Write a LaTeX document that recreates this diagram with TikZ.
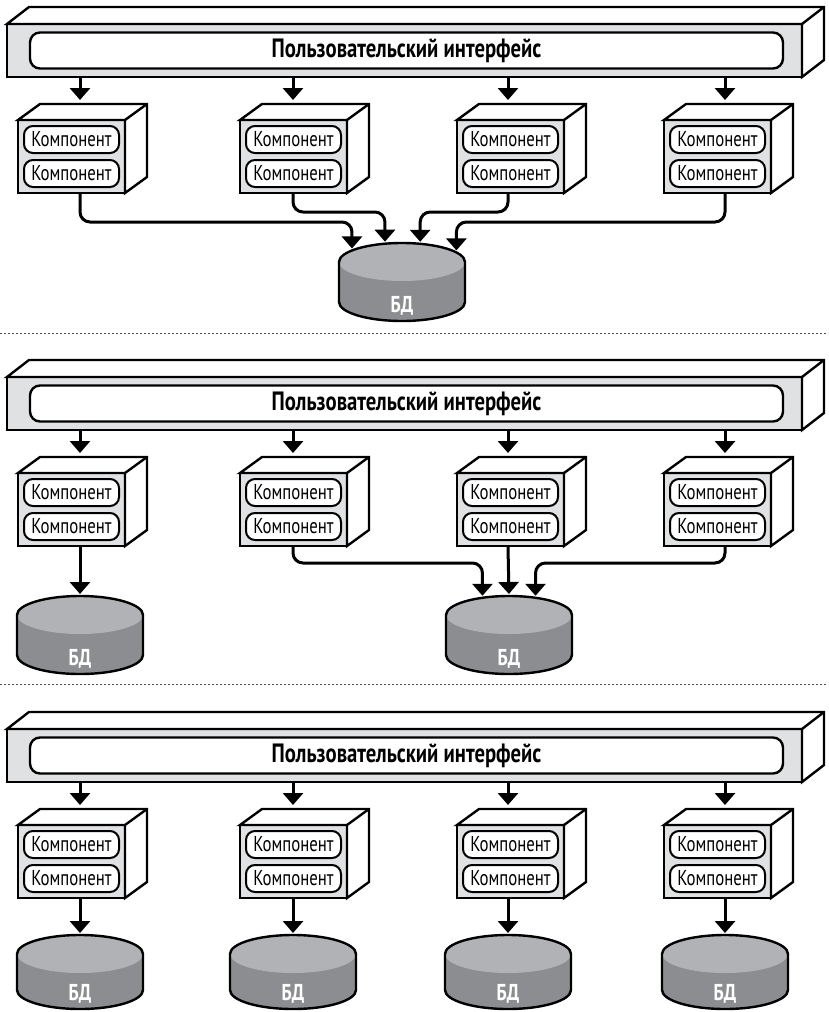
\documentclass[tikz,border=0pt]{standalone}
\usepackage{fontspec}
\setmainfont[FakeStretch=0.78]{PT Sans}
\usetikzlibrary{arrows.meta, positioning, shapes.geometric}

\definecolor{panelgray}{RGB}{224,225,226}
\definecolor{dbtop}{RGB}{176,178,181}
\definecolor{dbside}{RGB}{139,141,144}

\tikzset{
  outline/.style={line width=2.4pt},
  frontface/.style={draw, outline, fill=panelgray, inner sep=0pt, outer sep=0pt},
  sideface/.style={draw, outline, fill=white},
  uilabel/.style={draw, line width=2.4pt, fill=white, rounded corners=10pt,
    minimum width=753pt, minimum height=36pt, inner sep=0pt,
    font=\bfseries\fontsize{26.5}{30}\selectfont},
  complabel/.style={draw, line width=2pt, fill=white, rounded corners=9pt,
    minimum width=95pt, minimum height=27pt, inner sep=0pt,
    font=\fontsize{21.5}{24}\selectfont},
  dbcap/.style={ellipse, fill=dbtop, minimum width=126pt,
    minimum height=38pt, inner sep=0pt, outer sep=0pt},
  dblabel/.style={text=white, font=\bfseries\fontsize{23}{26}\selectfont},
  flow/.style={line width=3pt, rounded corners=10pt, shorten >=2pt,
    -{Triangle[width=20pt, length=12pt]}},
  separator/.style={line width=1pt, black!70, dash pattern=on 2pt off 2pt}
}

% interface bar: name, y offset of the panel
\newcommand{\uibar}[2]{%
  \node[frontface, minimum width=795pt, minimum height=53pt, anchor=north west]
    (#1) at (7,#2+24) {};
  \filldraw[sideface] (#1.north west) -- ++(22,-17) -- ++(795,0) -- ++(0,53)
    -- (#1.south east) -- (#1.north east) -- cycle;
  \draw[outline] (#1.north east) -- ++(22,-17);
  \node[uilabel] (#1t) at ([xshift=2pt]#1.center) {Пользовательский интерфейс};
}

% component box: name, left x, top y of the front face
\newcommand{\compbox}[3]{%
  \node[frontface, minimum width=107pt, minimum height=73pt, anchor=north west]
    (#1) at (#2,#3) {};
  \filldraw[sideface] (#1.north west) -- ++(22,-16) -- ++(107,0) -- ++(0,73)
    -- (#1.south east) -- (#1.north east) -- cycle;
  \draw[outline] (#1.north east) -- ++(22,-16);
  \node[complabel] (#1a) at ([yshift=17pt]#1.center) {Компонент};
  \node[complabel] (#1b) at ([yshift=-17pt]#1.center) {Компонент};
}

% database: name, centre x, centre y of the cap, side height
\newcommand{\dbdisk}[4]{%
  \fill[dbside] (#2-63,#3) -- (#2-63,#3+#4)
    arc[start angle=180, end angle=360, x radius=63pt, y radius=19pt]
    -- (#2+63,#3) -- cycle;
  \node[dbcap] (#1) at (#2,#3) {};
  \draw[outline] (#2-63,#3+#4) -- (#2-63,#3)
    arc[start angle=180, end angle=0, x radius=63pt, y radius=19pt]
    -- (#2+63,#3+#4)
    arc[start angle=0, end angle=-180, x radius=63pt, y radius=19pt];
  \node[dblabel] (#1l) at (#2,#3+#4+4) {БД};
}

\begin{document}
\begin{tikzpicture}[x=1pt, y=-1pt]
\useasboundingbox (0,0) rectangle (828,1012);

% three panels: bar, four boxes, arrows down
\foreach \p/\oy in {1/0, 2/353, 3/705} {
  \uibar{ui\p}{\oy}
  \foreach \bx/\ax [count=\i] in {18/80, 240/293, 457/508, 664/725} {
    \compbox{b\p\i}{\bx}{\oy+120}
    \coordinate (t\p\i) at (\ax,\oy+102);
    \coordinate (s\p\i) at (\ax,\oy+194);
    \draw[flow] (ui\p.south -| t\p\i) -- (t\p\i);
  }
}

% panel 1: one shared database
\dbdisk{db1}{402}{262}{40}
\draw[flow] (s11) -- ++(0,28) -| (db1.167);
\draw[flow] (s12) -- ++(0,18) -| (db1.133);
\draw[flow] (s13) -- ++(0,18) -| (db1.45);
\draw[flow] (s14) -- ++(0,28) -| (db1.10);

% panel 2: one own, one shared
\dbdisk{db2a}{80}{615}{40}
\dbdisk{db2b}{509}{615}{40}
\draw[flow] (s21) -- (db2a.north);
\draw[flow] (s22) -- ++(0,16) -| (db2b.147);
\draw[flow] (s23) -- (db2b.north);
\draw[flow] (s24) -- ++(0,16) -| (db2b.33);

% panel 3: a database per box
\foreach \ax [count=\i] in {80, 293, 508, 725} {
  \dbdisk{db3\i}{\ax}{954}{36}
  \draw[flow] (s3\i) -- (db3\i.north);
}

\draw[separator] (0,333) -- (828,333);
\draw[separator] (0,684) -- (828,684);
\end{tikzpicture}
\end{document}
